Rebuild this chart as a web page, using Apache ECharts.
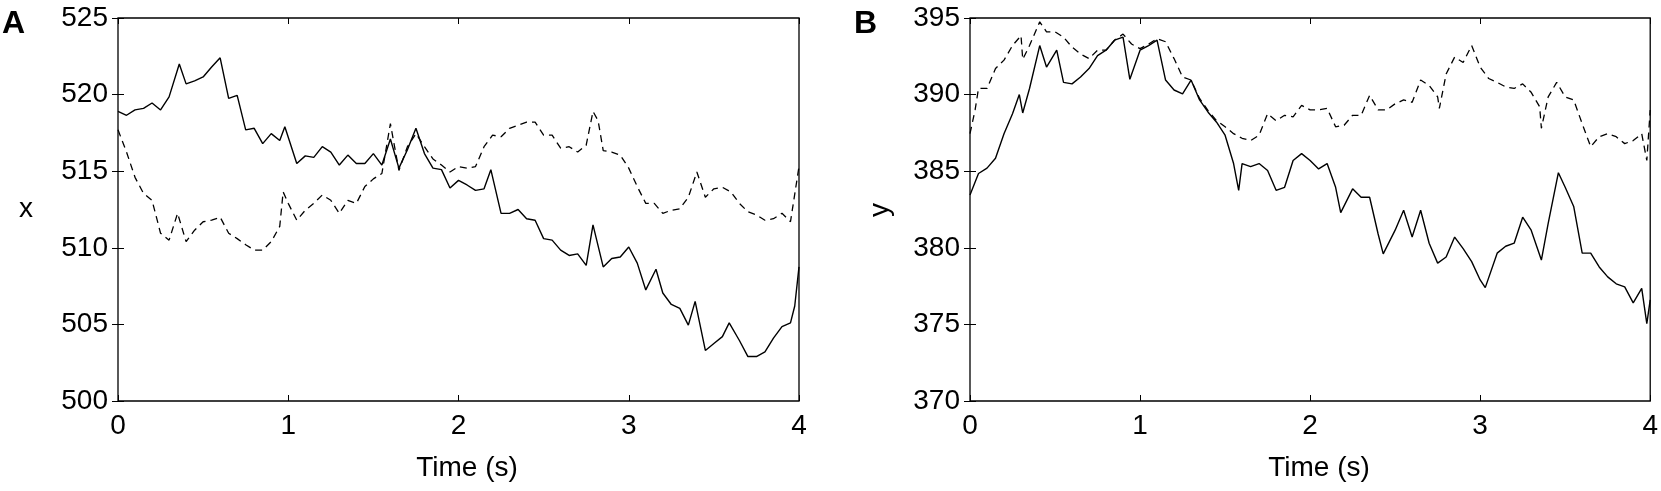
<!DOCTYPE html>
<html>
<head>
<meta charset="utf-8">
<script src="https://cdn.jsdelivr.net/npm/echarts@6/dist/echarts.min.js"></script>
<style>
html,body{margin:0;padding:0;background:#fff;}
#chart{width:1661px;height:491px;}
</style>
</head>
<body>
<div id="chart"></div>
<script>
// Panel A (x position)
var tA_solid = [0,0.05,0.1,0.15,0.2,0.25,0.3,0.36,0.4,0.45,0.5,0.55,0.6,0.65,0.7,0.75,0.8,0.85,0.9,0.95,0.98,1.05,1.1,1.15,1.2,1.25,1.3,1.35,1.4,1.45,1.5,1.55,1.6,1.65,1.7,1.75,1.8,1.85,1.9,1.95,2.0,2.05,2.1,2.15,2.19,2.25,2.3,2.35,2.4,2.45,2.5,2.55,2.6,2.65,2.7,2.75,2.79,2.85,2.9,2.95,3.0,3.05,3.1,3.16,3.2,3.25,3.3,3.35,3.39,3.45,3.5,3.55,3.59,3.65,3.7,3.75,3.8,3.85,3.9,3.95,3.975,4.0];
var xA_solid = [518.9,518.65,519.0,519.1,519.45,519.0,519.85,522.0,520.7,520.9,521.15,521.8,522.4,519.75,519.95,517.7,517.8,516.8,517.45,517.0,517.9,515.5,516.0,515.9,516.6,516.25,515.4,516.05,515.5,515.5,516.15,515.4,517.1,515.2,516.4,517.8,516.15,515.2,515.1,513.9,514.4,514.1,513.75,513.85,515.1,512.25,512.25,512.5,511.9,511.8,510.6,510.5,509.85,509.5,509.6,508.85,511.5,508.75,509.3,509.4,510.05,509.0,507.25,508.6,507.05,506.3,506.05,504.95,506.5,503.3,503.75,504.2,505.1,503.95,502.9,502.9,503.2,504.1,504.85,505.1,506.2,508.75];
var tA_dash = [0,0.05,0.1,0.15,0.2,0.25,0.3,0.35,0.4,0.45,0.5,0.55,0.6,0.65,0.7,0.75,0.8,0.85,0.9,0.95,0.97,1.0,1.05,1.1,1.15,1.2,1.25,1.3,1.35,1.4,1.45,1.5,1.55,1.6,1.65,1.7,1.75,1.8,1.85,1.9,1.95,2.0,2.05,2.1,2.15,2.2,2.25,2.3,2.35,2.4,2.45,2.5,2.55,2.6,2.65,2.7,2.75,2.79,2.82,2.85,2.9,2.95,3.0,3.05,3.1,3.15,3.2,3.25,3.3,3.35,3.4,3.45,3.5,3.55,3.6,3.65,3.7,3.75,3.8,3.85,3.9,3.95,4.0];
var xA_dash = [517.7,516.25,514.6,513.55,513.1,510.95,510.5,512.25,510.4,511.15,511.7,511.8,512.0,510.95,510.6,510.2,509.85,509.85,510.4,511.4,513.65,512.9,511.8,512.45,512.9,513.45,513.1,512.25,513.1,512.9,514.0,514.5,514.85,518.1,515.05,516.6,517.45,516.6,515.8,515.4,514.95,515.3,515.2,515.3,516.6,517.35,517.25,517.8,518.0,518.2,518.2,517.35,517.35,516.5,516.6,516.25,516.7,518.9,518.3,516.35,516.25,516.05,515.2,514.0,512.9,512.9,512.25,512.45,512.55,513.3,514.95,513.3,513.85,513.95,513.65,512.9,512.35,512.15,511.8,511.9,512.25,511.7,515.3];

// Panel B (y position)
var tB_solid = [0,0.05,0.1,0.15,0.2,0.25,0.29,0.31,0.35,0.41,0.45,0.51,0.55,0.6,0.65,0.7,0.75,0.8,0.85,0.9,0.94,1.0,1.05,1.1,1.15,1.2,1.25,1.3,1.35,1.4,1.45,1.5,1.55,1.58,1.6,1.65,1.7,1.75,1.8,1.85,1.9,1.95,2.0,2.05,2.1,2.15,2.18,2.25,2.3,2.35,2.4,2.43,2.5,2.55,2.6,2.65,2.7,2.75,2.8,2.85,2.9,2.95,3.0,3.03,3.1,3.15,3.2,3.25,3.3,3.36,3.4,3.46,3.5,3.55,3.6,3.65,3.7,3.75,3.8,3.85,3.9,3.95,3.98,4.0];
var yB_solid = [383.45,384.85,385.2,385.85,387.45,388.75,390.0,388.8,390.4,393.2,391.8,392.9,390.8,390.7,391.15,391.7,392.55,392.9,393.55,393.75,391.0,392.9,393.2,393.55,390.95,390.3,390.05,390.95,389.65,388.85,388.2,387.35,385.5,383.75,385.5,385.3,385.5,385.05,383.75,383.95,385.7,386.15,385.7,385.15,385.5,383.95,382.3,383.85,383.3,383.3,380.9,379.6,381.15,382.45,380.7,382.45,380.3,379.0,379.4,380.7,379.95,379.1,377.9,377.4,379.65,380.1,380.3,382.0,381.15,379.2,381.6,384.9,383.95,382.7,379.65,379.65,378.75,378.1,377.65,377.45,376.4,377.35,375.05,376.6];
var tB_dash = [0,0.03,0.05,0.1,0.15,0.2,0.25,0.3,0.31,0.35,0.41,0.45,0.5,0.55,0.6,0.65,0.7,0.75,0.8,0.85,0.9,0.95,1.0,1.05,1.1,1.15,1.2,1.25,1.3,1.35,1.4,1.45,1.5,1.55,1.6,1.65,1.7,1.75,1.8,1.85,1.9,1.95,2.0,2.05,2.1,2.15,2.2,2.25,2.3,2.35,2.4,2.45,2.5,2.55,2.6,2.65,2.7,2.75,2.76,2.8,2.85,2.9,2.95,3.0,3.05,3.1,3.15,3.2,3.25,3.3,3.35,3.36,3.4,3.45,3.5,3.55,3.6,3.65,3.7,3.75,3.8,3.85,3.9,3.95,3.98,4.0];
var yB_dash = [387.45,389.0,390.4,390.4,391.7,392.25,393.2,393.85,392.3,393.2,394.75,394.1,394.1,393.75,393.1,392.65,392.35,392.9,392.9,393.55,393.95,393.3,393.0,393.3,393.65,393.45,392.35,391.15,390.95,389.75,388.95,388.3,387.9,387.45,387.15,387.0,387.35,388.75,388.3,388.65,388.55,389.3,389.0,389.0,389.1,387.9,388.0,388.65,388.65,389.95,389.0,389.0,389.4,389.65,389.5,390.95,390.6,389.85,389.1,391.35,392.45,392.1,393.2,391.8,391.05,390.8,390.5,390.4,390.7,390.15,389.2,387.8,389.85,390.8,389.85,389.65,388.1,386.6,387.25,387.45,387.25,386.8,387.0,387.45,385.7,389.0];

var timeTicks = [0,1,2,3,4];
var xTicksA = [500,505,510,515,520,525];
var yTicksB = [370,375,380,385,390,395];

function pairs(t, v){ return t.map(function(tt,i){ return [tt, v[i]]; }); }

var FONT = '"Liberation Sans", Arial, Helvetica, sans-serif';
var chart = echarts.init(document.getElementById('chart'), null, {renderer:'canvas'});

function xAx(gi, pos, showLabel){
  return {
    type:'value', gridIndex:gi, position:pos, min:timeTicks[0], max:timeTicks[timeTicks.length-1], interval:1,
    axisLine:{show:false}, splitLine:{show:false},
    axisTick:{show:true, inside:true, length:6, lineStyle:{color:'#000', width:1}},
    axisLabel:{show:showLabel, color:'#000', fontSize:28, fontFamily:FONT, margin:11}
  };
}
function yAx(gi, pos, ticks, showLabel){
  return {
    type:'value', gridIndex:gi, position:pos, min:ticks[0], max:ticks[ticks.length-1], interval:5,
    axisLine:{show:false}, splitLine:{show:false},
    axisTick:{show:true, inside:true, length:6, lineStyle:{color:'#000', width:1}},
    axisLabel:{show:showLabel, color:'#000', fontSize:28, fontFamily:FONT, margin:10}
  };
}

var option = {
  backgroundColor:'#fff',
  animation:false,
  grid:[
    {left:118, top:18, width:681, height:383, show:true, borderColor:'#000', borderWidth:1.3, backgroundColor:'transparent'},
    {left:970, top:18, width:682, height:383, show:true, borderColor:'#000', borderWidth:1.3, backgroundColor:'transparent'}
  ],
  xAxis:[ xAx(0,'bottom',true), xAx(0,'top',false), xAx(1,'bottom',true), xAx(1,'top',false) ],
  yAxis:[ yAx(0,'left',xTicksA,true), yAx(0,'right',xTicksA,false), yAx(1,'left',yTicksB,true), yAx(1,'right',yTicksB,false) ],
  series:[
    {type:'line', xAxisIndex:0, yAxisIndex:0, data:pairs(tA_solid,xA_solid), showSymbol:false, symbol:'none', lineStyle:{color:'#000', width:1.4}},
    {type:'line', xAxisIndex:0, yAxisIndex:0, data:pairs(tA_dash,xA_dash), showSymbol:false, symbol:'none', lineStyle:{color:'#000', width:1.3, type:[7,5]}},
    {type:'line', xAxisIndex:2, yAxisIndex:2, data:pairs(tB_solid,yB_solid), showSymbol:false, symbol:'none', lineStyle:{color:'#000', width:1.4}},
    {type:'line', xAxisIndex:2, yAxisIndex:2, data:pairs(tB_dash,yB_dash), showSymbol:false, symbol:'none', lineStyle:{color:'#000', width:1.3, type:[7,5]}}
  ],
  graphic:[
    {type:'text', left:2, top:8, style:{text:'A', font:'bold 32px '+FONT, fill:'#000'}},
    {type:'text', left:854, top:8, style:{text:'B', font:'bold 32px '+FONT, fill:'#000'}},
    {type:'text', x:26, y:209, style:{text:'x', font:'28px '+FONT, fill:'#000', align:'center', verticalAlign:'middle'}},
    {type:'text', x:880, y:210, rotation:Math.PI/2, style:{text:'y', font:'28px '+FONT, fill:'#000', align:'center', verticalAlign:'middle'}},
    {type:'text', x:467, y:468, style:{text:'Time (s)', font:'28px '+FONT, fill:'#000', align:'center', verticalAlign:'middle'}},
    {type:'text', x:1319, y:468, style:{text:'Time (s)', font:'28px '+FONT, fill:'#000', align:'center', verticalAlign:'middle'}}
  ]
};
chart.setOption(option);
</script>
</body>
</html>
